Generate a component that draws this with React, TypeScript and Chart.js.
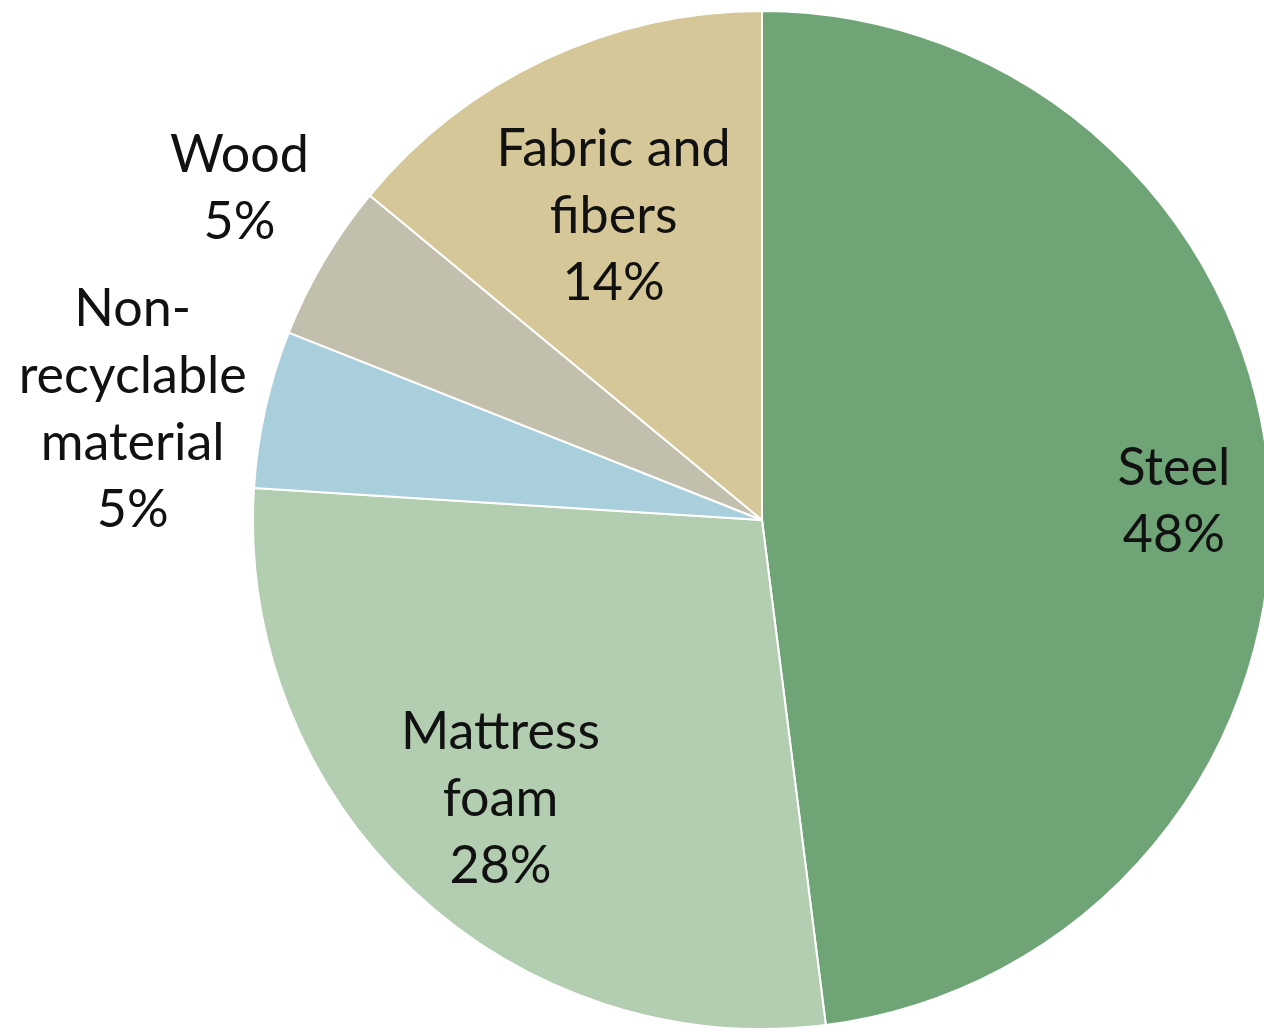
import React, { useEffect, useRef } from "react";
import { Chart, registerables } from "chart.js";

Chart.register(...registerables);

const categories = ["Steel", "Mattress foam", "Non-recyclable material", "Wood", "Fabric and fibers"];
const values = [48, 28, 5, 5, 14];
const labelLines = [
  ["Steel", "48%"],
  ["Mattress", "foam", "28%"],
  ["Non-", "recyclable", "material", "5%"],
  ["Wood", "5%"],
  ["Fabric and", "fibers", "14%"],
];
const colors = ["#6fa477", "#b2cdb0", "#a9cfdc", "#c3bfad", "#d5c797"];
const labelRadius = [0.81, 0.752, 1.255, 1.216, 0.665];
const labelAngleShift = [1.0, -0.1, -2.7, 1.8, -0.8];

const labelPlugin = {
  id: "sliceLabels",
  afterDatasetsDraw(chart: any) {
    const ctx = chart.ctx;
    const meta = chart.getDatasetMeta(0);
    ctx.save();
    ctx.font = "52px Lato";
    ctx.fillStyle = "#111111";
    ctx.textAlign = "center";
    ctx.textBaseline = "middle";
    const lh = 67;
    meta.data.forEach((arc: any, i: number) => {
      const { x, y, startAngle, endAngle, outerRadius } = arc.getProps(
        ["x", "y", "startAngle", "endAngle", "outerRadius"],
        true
      );
      const mid = (startAngle + endAngle) / 2 + (labelAngleShift[i] * Math.PI) / 180;
      const r = outerRadius * labelRadius[i];
      const cx = x + Math.cos(mid) * r;
      const cy = y + Math.sin(mid) * r;
      const lines = labelLines[i];
      lines.forEach((t, j) => {
        ctx.fillText(t, cx, cy + (j - (lines.length - 1) / 2) * lh);
      });
    });
    ctx.restore();
  },
};

export default function App() {
  const ref = useRef<HTMLCanvasElement>(null);
  useEffect(() => {
    document.body.style.margin = "0";
    const chart = new Chart(ref.current!, {
      type: "pie",
      data: {
        labels: categories,
        datasets: [
          {
            data: values,
            backgroundColor: colors,
            borderColor: "#ffffff",
            borderWidth: 2,
          },
        ],
      },
      options: {
        responsive: false,
        animation: false,
        layout: { padding: { left: 252, right: 28, top: 10, bottom: 10 } },
        plugins: { legend: { display: false }, tooltip: { enabled: false } },
      },
      plugins: [labelPlugin],
    });
    return () => chart.destroy();
  }, []);
  return (
    <div
      style={{
        position: "fixed",
        left: 0,
        top: 0,
        width: 1264,
        height: 1030,
        overflow: "hidden",
        background: "#ffffff",
      }}
    >
      <canvas ref={ref} width={1300} height={1040} style={{ display: "block" }} />
    </div>
  );
}
